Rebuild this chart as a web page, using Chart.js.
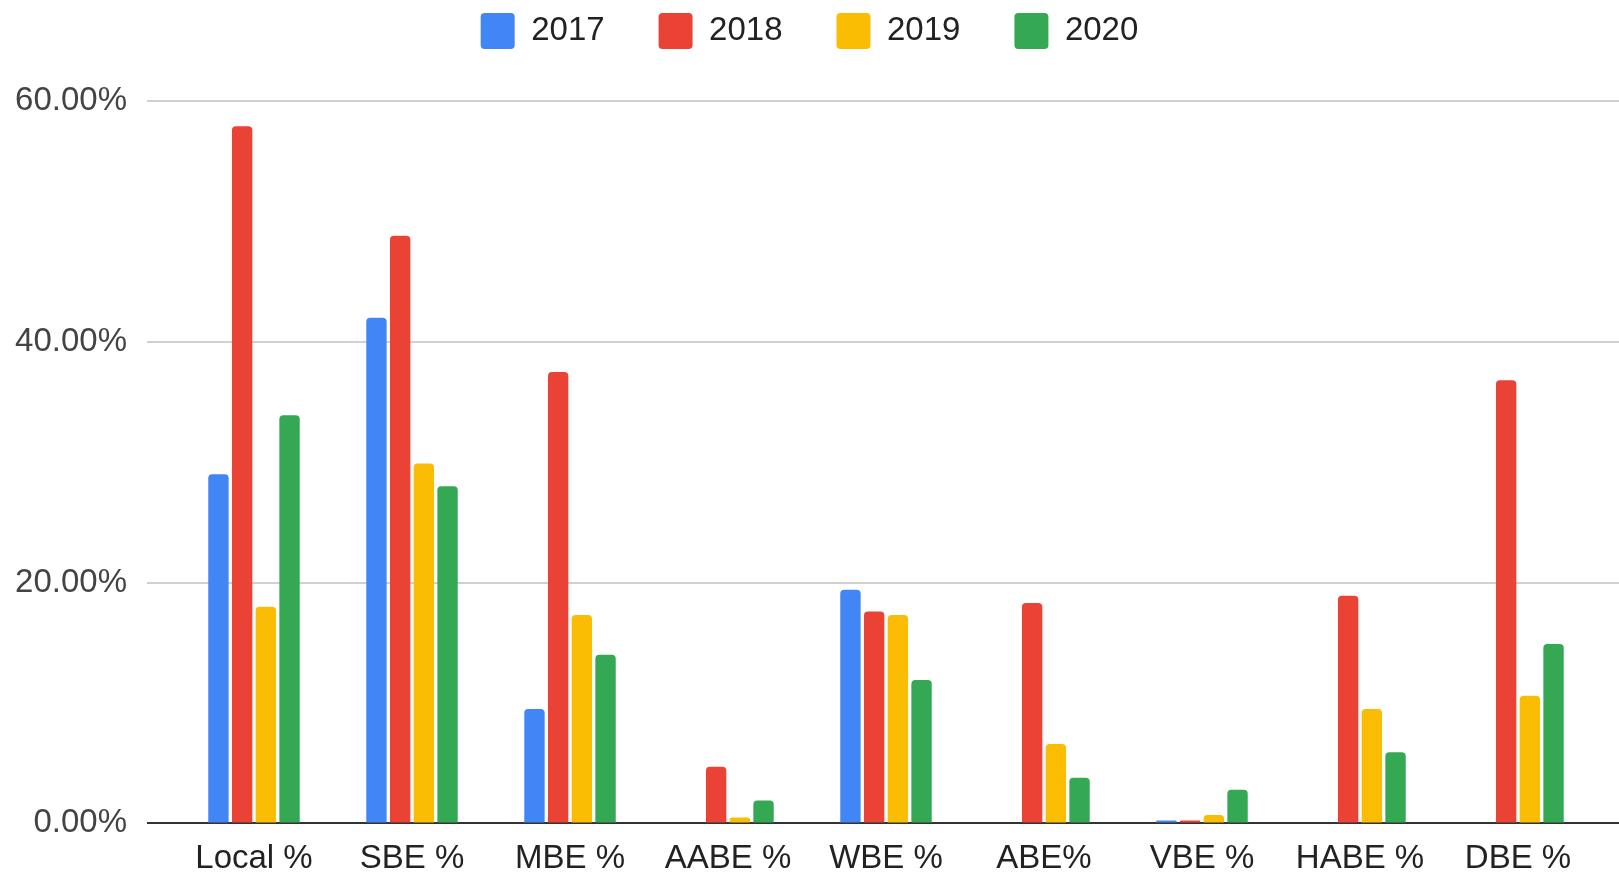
<!DOCTYPE html>
<html>
<head>
<meta charset="utf-8">
<script src="https://cdn.jsdelivr.net/npm/chart.js@4.4.0/dist/chart.umd.min.js"></script>
<style>
  html, body { margin: 0; padding: 0; background: #fff; }
  #wrap { width: 1619px; height: 874px; }
</style>
</head>
<body>
<div id="wrap"><canvas id="barChart"></canvas></div>
<script>
const categories = ['Local %', 'SBE %', 'MBE %', 'AABE %', 'WBE %', 'ABE%', 'VBE %', 'HABE %', 'DBE %'];
const years = ['2017', '2018', '2019', '2020'];
const values2017 = [29.0, 42.0, 9.5, 0, 19.4, 0, 0.25, 0, 0];
const values2018 = [57.9, 48.8, 37.5, 4.7, 17.6, 18.3, 0.25, 18.9, 36.8];
const values2019 = [18.0, 29.9, 17.3, 0.5, 17.3, 6.6, 0.7, 9.5, 10.6];
const values2020 = [33.9, 28.0, 14.0, 1.9, 11.9, 3.8, 2.8, 5.9, 14.9];
const yTicks = [0, 20, 40, 60];

const colors = ['#4285F4', '#EA4335', '#FBBC04', '#34A853'];
const series = [values2017, values2018, values2019, values2020];

const gridColor = ctx => ctx.tick && ctx.tick.value === 0 ? '#333333' : '#d0d0d0';
const pct = v => v.toFixed(2) + '%';
const font = { family: 'Arial, "Liberation Sans", sans-serif', size: 33 };

// push the plot area down below the legend
const legendGap = {
    id: 'legendGap',
    beforeInit(chart) {
        const fit = chart.legend.fit;
        chart.legend.fit = function () {
            fit.bind(chart.legend)();
            this.height += 42;
        };
    }
};

const ctx = document.getElementById('barChart').getContext('2d');

const barChart = new Chart(ctx, {
    type: 'bar',
    data: {
        labels: categories,
        datasets: years.map((y, i) => ({
            label: y,
            data: series[i],
            backgroundColor: colors[i],
            borderRadius: { topLeft: 4, topRight: 4 },
            borderSkipped: 'start',
            categoryPercentage: 0.6,
            barPercentage: 0.86
        }))
    },
    plugins: [legendGap],
    options: {
        responsive: true,
        maintainAspectRatio: false,
        animation: false,
        layout: { padding: { top: -41, right: 0, left: 0, bottom: -21 } },
        plugins: {
            tooltip: { enabled: false },
            legend: {
                display: true,
                position: 'top',
                labels: {
                    boxWidth: 34,
                    boxHeight: 36,
                    useBorderRadius: true,
                    borderRadius: 4,
                    padding: 54,
                    color: '#222',
                    font: font
                }
            }
        },
        scales: {
            x: {
                grid: { display: false, drawTicks: false },
                border: { display: false },
                ticks: {
                    color: '#222',
                    padding: 16,
                    maxRotation: 0,
                    font: font
                }
            },
            y: {
                min: 0,
                max: 60,
                afterFit: s => { s.width = 175; },
                afterBuildTicks: s => { s.ticks = yTicks.map(v => ({ value: v })); },
                grid: { color: gridColor, lineWidth: 2, tickLength: 28, tickColor: gridColor },
                border: { display: false },
                ticks: {
                    color: '#444',
                    padding: 20,
                    font: font,
                    callback: v => pct(v)
                }
            },
            yRight: {
                position: 'right',
                min: 0,
                max: 60,
                afterFit: s => { s.width = 22; },
                afterBuildTicks: s => { s.ticks = yTicks.map(v => ({ value: v })); },
                grid: { color: gridColor, lineWidth: 2, drawOnChartArea: false, tickLength: 22, tickColor: gridColor },
                border: { display: false },
                ticks: { display: false }
            }
        }
    }
});
</script>
</body>
</html>
